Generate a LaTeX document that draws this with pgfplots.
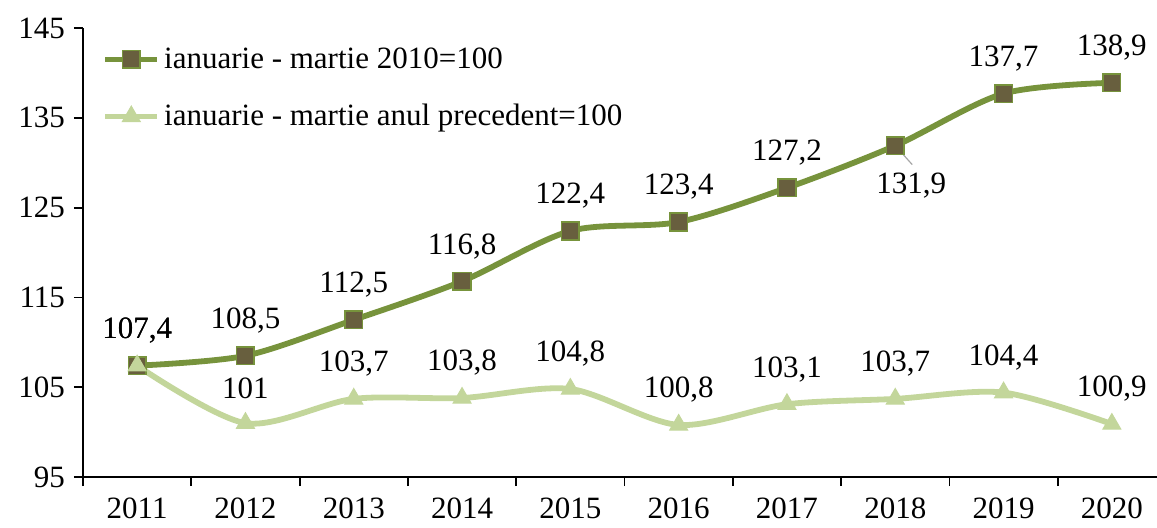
\documentclass[border=0pt]{standalone}
\usepackage{pgfplots}
\pgfplotsset{compat=1.18}
\usepackage{fontspec}
\setmainfont{Liberation Serif}
\definecolor{darkg}{RGB}{119,147,60}
\definecolor{markf}{RGB}{104,95,62}
\definecolor{lightg}{RGB}{195,214,155}
\begin{document}
\begin{tikzpicture}[font=\fontsize{15.5}{18.5}\selectfont]
\useasboundingbox (-41.5pt,-25pt) rectangle (537pt,238.5pt);
\begin{axis}[
  at={(0,0)}, anchor=south west,
  scale only axis,
  width=541.5pt, height=224.5pt,
  xmin=-0.5, xmax=9.5,
  ymin=95, ymax=145,
  ytick={95,105,...,145},
  xtick={-0.5,0.5,...,9.5},
  x tick label as interval,
  xticklabels={2011,2012,2013,2014,2015,2016,2017,2018,2019,2020},
  axis lines*=left,
  axis line style={line width=0.9pt},
  tick style={black, line width=0.9pt},
  tick align=outside,
  major tick length=4.5pt,
  /pgf/number format/assume math mode=true,
  tick label style={font=\fontsize{15.5}{18.5}\selectfont},
  xticklabel style={yshift=-2.5pt},
  yticklabel style={xshift=-1pt},
  clip=false,
  legend cell align=left,
  legend style={draw=none, fill=none, at={(0.012,0.975)}, anchor=north west,
    row sep=12.5pt, font=\fontsize{15.5}{18.5}\selectfont},
  legend image code/.code={\draw[mark repeat=2,mark phase=2,#1] plot coordinates {(0pt,0pt) (13pt,0pt) (26pt,0pt)};},
  nodes near coords,
  point meta=explicit symbolic,
  every node near coord/.append style={anchor=center, yshift=17.5pt, black, font=\fontsize{15.5}{18.5}\selectfont},
]
\addplot[smooth, line width=2.9pt, color=darkg, mark=square*,
  mark options={fill=markf, draw=darkg, line width=0.8pt, mark size=4.4pt}]
  table[meta=lab] {
x y lab
0 107.4 {107,4}
1 108.5 {108,5}
2 112.5 {112,5}
3 116.8 {116,8}
4 122.4 {122,4}
5 123.4 {123,4}
6 127.2 {127,2}
7 131.9 {}
8 137.7 {137,7}
9 138.9 {138,9}
};
\addlegendentry{ianuarie - martie 2010=100}
\addplot[smooth, line width=2.9pt, color=lightg, mark=triangle*,
  mark options={fill=lightg, draw=lightg, line width=0.5pt, mark size=5.2pt}]
  table[meta=lab] {
x y lab
0 107.4 {107,4}
1 101.0 {101}
2 103.7 {103,7}
3 103.8 {103,8}
4 104.8 {104,8}
5 100.8 {100,8}
6 103.1 {103,1}
7 103.7 {103,7}
8 104.4 {104,4}
9 100.9 {100,9}
};
\addlegendentry{ianuarie - martie anul precedent=100}
\draw[gray!70, line width=0.6pt] (axis cs:7,131.9) -- ++(8.5pt,-9.5pt);
\node[anchor=center, font=\fontsize{15.5}{18.5}\selectfont] at ([xshift=8pt,yshift=-20pt]axis cs:7,131.9) {131,9};
\end{axis}
\end{tikzpicture}
\end{document}
